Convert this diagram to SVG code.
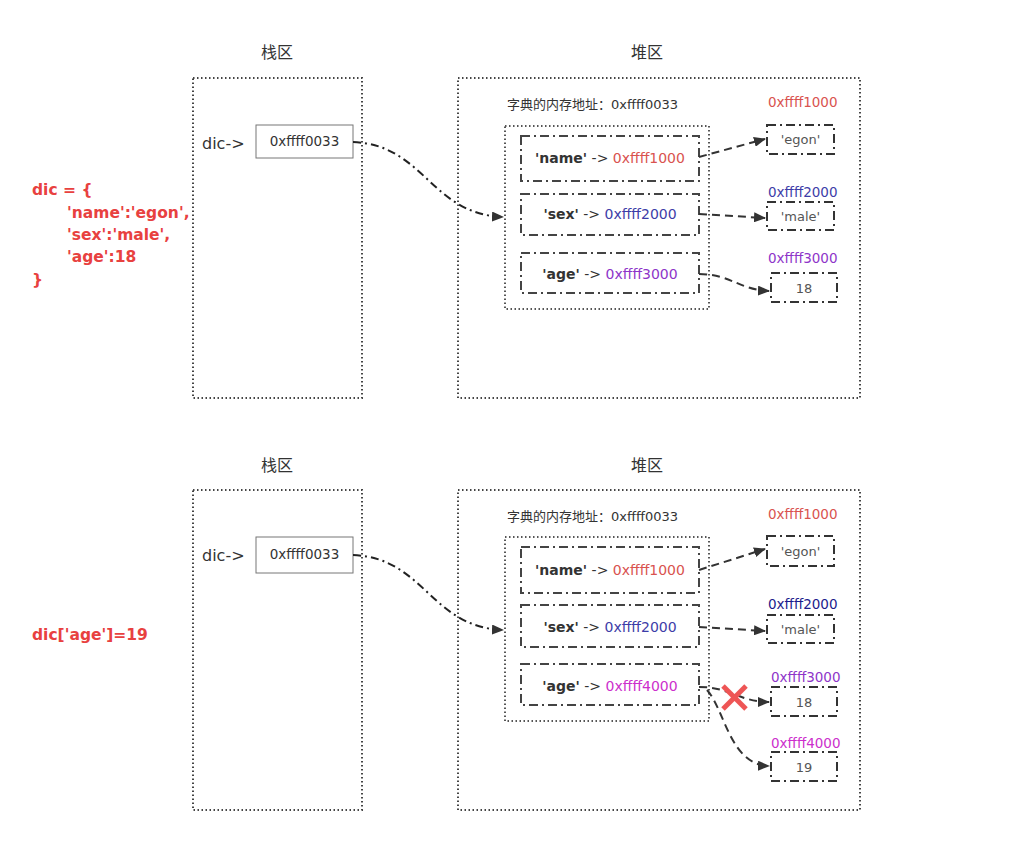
<svg xmlns="http://www.w3.org/2000/svg" width="1036" height="852" viewBox="0 0 1036 852">
<defs>
<marker id="arr" viewBox="0 0 12 10" refX="11" refY="5" markerWidth="12" markerHeight="10" markerUnits="userSpaceOnUse" orient="auto">
<path d="M0,0 L12,5 L0,10 Z" fill="#333"/>
</marker>
<style>
text{font-family:"DejaVu Sans","Noto Sans CJK SC",sans-serif;fill:#333}
.title{font-size:16px;text-anchor:middle}
.region{fill:none;stroke:#444;stroke-width:2;stroke-dasharray:1.5,2.5}
.inner{fill:none;stroke:#555;stroke-width:2;stroke-dasharray:1.5,2.5}
.ptr{fill:#fff;stroke:#777;stroke-width:1}
.ptrt{font-size:13.5px;text-anchor:middle}
.entry{fill:none;stroke:#444;stroke-width:2;stroke-dasharray:9,4,2,4}
.val{fill:none;stroke:#333;stroke-width:2;stroke-dasharray:9,4,2,4}
.code{font-size:15.5px;font-weight:bold;fill:#e8413f}
.et{font-size:14px;text-anchor:middle}
.vt{font-size:13px;text-anchor:middle;fill:#555}
.small{font-size:13px}
.addr{font-size:13.5px}
.red{fill:#d9534f}
.blue{fill:#3d3da8}
.navy{fill:#1c1c8c}
.purple{fill:#8e35c9}
.mag{fill:#cc2fcc}
.dd{fill:none;stroke:#222;stroke-width:2;stroke-dasharray:8,4,2,4}
.ds{fill:none;stroke:#333;stroke-width:2;stroke-dasharray:8,5}
</style>
</defs>

<!-- Top section -->
<g id="code-top">
<text class="code" x="32" y="195">dic = {</text>
<text class="code" x="67" y="218">'name':'egon',</text>
<text class="code" x="67" y="240">'sex':'male',</text>
<text class="code" x="67" y="262">'age':18</text>
<text class="code" x="32" y="285">}</text>
</g>
<g id="stack-top">
<text class="title" x="277" y="58">栈区</text>
<rect class="region" x="193" y="78" width="169" height="320"/>
<text x="202" y="149" style="font-size:16px">dic-&gt;</text>
</g>
<g id="ptr-top">
<rect class="ptr" x="256" y="125" width="97" height="33"/>
<text class="ptrt" x="304.5" y="146">0xffff0033</text>
</g>
<g id="heap-top">
<text class="title" x="647" y="58">堆区</text>
<rect class="region" x="458" y="78" width="402" height="320"/>
<text class="small" x="507" y="109">字典的内存地址：0xffff0033</text>
<rect class="inner" x="505" y="126" width="204" height="183"/>
</g>
<g id="entry-name-top">
<rect class="entry" x="521" y="136" width="178" height="45"/>
<text class="et" x="610" y="163"><tspan font-weight="bold">'name'</tspan> -&gt; <tspan class="red">0xffff1000</tspan></text>
</g>
<g id="entry-sex-top">
<rect class="entry" x="521" y="194" width="178" height="41"/>
<text class="et" x="610" y="219"><tspan font-weight="bold">'sex'</tspan> -&gt; <tspan class="blue">0xffff2000</tspan></text>
</g>
<g id="entry-age-top">
<rect class="entry" x="521" y="253" width="178" height="40"/>
<text class="et" x="610" y="279"><tspan font-weight="bold">'age'</tspan> -&gt; <tspan class="purple">0xffff3000</tspan></text>
</g>
<g id="val-egon-top">
<text class="addr red" x="768" y="107">0xffff1000</text>
<rect class="val" x="767" y="125" width="67" height="29"/>
<text class="vt" x="800.5" y="144">'egon'</text>
</g>
<g id="val-male-top">
<text class="addr blue" x="768" y="197">0xffff2000</text>
<rect class="val" x="767" y="202" width="67" height="28"/>
<text class="vt" x="800.5" y="221">'male'</text>
</g>
<g id="val-18-top">
<text class="addr purple" x="768" y="263">0xffff3000</text>
<rect class="val" x="771" y="273" width="66" height="29"/>
<text class="vt" x="804" y="293">18</text>
</g>

<!-- Bottom section -->
<g id="code-bottom">
<text class="code" x="32" y="640">dic['age']=19</text>
</g>
<g id="stack-bottom">
<text class="title" x="277" y="471">栈区</text>
<rect class="region" x="193" y="490" width="169" height="320"/>
<text x="202" y="561" style="font-size:16px">dic-&gt;</text>
</g>
<g id="ptr-bottom">
<rect class="ptr" x="256" y="537" width="97" height="36"/>
<text class="ptrt" x="304.5" y="559">0xffff0033</text>
</g>
<g id="heap-bottom">
<text class="title" x="647" y="471">堆区</text>
<rect class="region" x="458" y="490" width="402" height="320"/>
<text class="small" x="507" y="521">字典的内存地址：0xffff0033</text>
<rect class="inner" x="505" y="537" width="204" height="184"/>
</g>
<g id="entry-name-bottom">
<rect class="entry" x="521" y="547" width="178" height="46"/>
<text class="et" x="610" y="575"><tspan font-weight="bold">'name'</tspan> -&gt; <tspan class="red">0xffff1000</tspan></text>
</g>
<g id="entry-sex-bottom">
<rect class="entry" x="521" y="605" width="178" height="42"/>
<text class="et" x="610" y="632"><tspan font-weight="bold">'sex'</tspan> -&gt; <tspan class="blue">0xffff2000</tspan></text>
</g>
<g id="entry-age-bottom">
<rect class="entry" x="521" y="664" width="178" height="41"/>
<text class="et" x="610" y="691"><tspan font-weight="bold">'age'</tspan> -&gt; <tspan class="mag">0xffff4000</tspan></text>
</g>
<g id="val-egon-bottom">
<text class="addr red" x="768" y="519">0xffff1000</text>
<rect class="val" x="767" y="536" width="67" height="30"/>
<text class="vt" x="800.5" y="556">'egon'</text>
</g>
<g id="val-male-bottom">
<text class="addr navy" x="768" y="609">0xffff2000</text>
<rect class="val" x="767" y="615" width="67" height="28"/>
<text class="vt" x="800.5" y="634">'male'</text>
</g>
<g id="val-18-bottom">
<text class="addr purple" x="771" y="682">0xffff3000</text>
<rect class="val" x="771" y="687" width="66" height="29"/>
<text class="vt" x="804" y="707">18</text>
</g>
<g id="val-19-bottom">
<text class="addr mag" x="771" y="748">0xffff4000</text>
<rect class="val" x="771" y="752" width="66" height="29"/>
<text class="vt" x="804" y="772">19</text>
</g>

<g id="connectors">
<path class="dd" d="M353,142 C425,145 430,214 503,217" marker-end="url(#arr)"/>
<path class="ds" d="M699,157 L765,139" marker-end="url(#arr)"/>
<path class="ds" d="M699,214 L765,218" marker-end="url(#arr)"/>
<path class="ds" d="M699,274 C730,274 740,290 769,291" marker-end="url(#arr)"/>

<path class="dd" d="M353,555 C425,558 430,627 503,630" marker-end="url(#arr)"/>
<path class="ds" d="M699,570 L765,549" marker-end="url(#arr)"/>
<path class="ds" d="M699,627 L765,631" marker-end="url(#arr)"/>
<path class="ds" d="M699,687 C730,687 740,702 769,702" marker-end="url(#arr)"/>
<path class="ds" d="M707,690 C725,710 730,765 769,766" marker-end="url(#arr)"/>
</g>
<g id="cross" stroke="#ee5555" stroke-width="5" stroke-linecap="butt">
<line x1="723" y1="686" x2="746" y2="709"/>
<line x1="746" y1="686" x2="723" y2="709"/>
</g>
</svg>
